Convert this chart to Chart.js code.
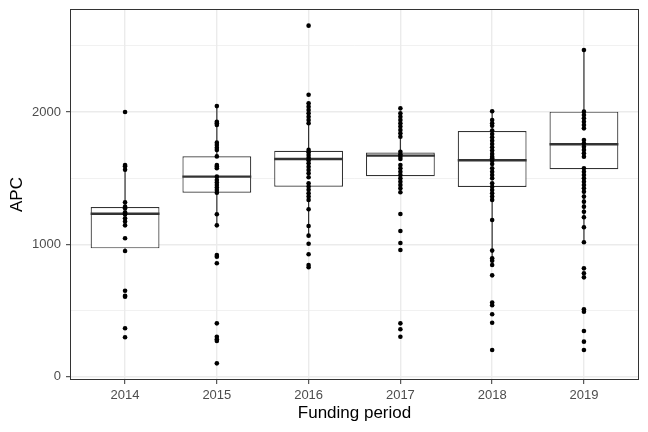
<!DOCTYPE html>
<html>
<head>
<meta charset="utf-8">
<script src="https://cdn.jsdelivr.net/npm/chart.js@4/dist/chart.umd.min.js"></script>
<style>
  html, body { margin: 0; padding: 0; background: #fff; }
  #wrap { width: 648px; height: 432px; }
</style>
</head>
<body>
<div id="wrap"><canvas id="apcChart" width="648" height="432"></canvas></div>
<script>
/* =========================
   Datos
========================= */
const years = ["2014", "2015", "2016", "2017", "2018", "2019"];

// resumen de cada caja
const q1          = [970, 1391, 1436, 1515, 1434, 1568];
const medians     = [1232, 1512, 1645, 1671, 1636, 1757];
const q3          = [1283, 1666, 1708, 1694, 1857, 2003];
const whiskerLow  = [950, 1144, 1066, 1394, 842, 1016];
const whiskerHigh = [1600, 2045, 2067, 1940, 2006, 2469];

// puntos individuales (APC) por periodo
const apc2014 = [2000, 1600, 1590, 1565, 1318, 1285, 1273, 1243, 1232, 1227, 1197, 1172, 1144, 1046, 950, 650, 612, 605, 366, 298];
const apc2015 = [2045, 1927, 1915, 1902, 1769, 1751, 1731, 1714, 1665, 1600, 1588, 1575, 1512, 1487, 1467, 1449, 1429, 1411, 1391, 1228, 1144, 920, 907, 857, 403, 302, 283, 270, 101];
const apc2016 = [2653, 2131, 2067, 2041, 2016, 1991, 1965, 1940, 1915, 1714, 1696, 1676, 1655, 1636, 1613, 1587, 1562, 1537, 1507, 1462, 1437, 1412, 1386, 1361, 1336, 1265, 1139, 1066, 1005, 925, 844, 827];
const apc2017 = [2028, 1991, 1965, 1940, 1915, 1890, 1865, 1840, 1814, 1700, 1681, 1663, 1645, 1600, 1575, 1549, 1524, 1500, 1474, 1449, 1424, 1394, 1230, 1101, 1011, 958, 403, 358, 302];
const apc2018 = [2006, 1940, 1915, 1897, 1860, 1834, 1809, 1784, 1759, 1734, 1709, 1684, 1663, 1651, 1633, 1608, 1575, 1549, 1524, 1499, 1462, 1436, 1411, 1386, 1361, 1336, 1184, 953, 895, 877, 844, 766, 560, 540, 472, 408, 202];
const apc2019 = [2469, 2003, 1978, 1953, 1927, 1902, 1877, 1789, 1764, 1738, 1714, 1689, 1663, 1575, 1549, 1524, 1499, 1474, 1449, 1424, 1398, 1361, 1323, 1285, 1247, 1205, 1129, 1016, 819, 782, 751, 509, 491, 345, 265, 202];
const apcByYear = [apc2014, apc2015, apc2016, apc2017, apc2018, apc2019];

// ejes
const yTickLabels = [0, 1000, 2000];
const yMinorBreaks = [500, 1500, 2500];
const yLimits = [-25, 2779];
const xLimits = [0.4, 6.6];

/* =========================
   Plugins: bigotes, medianas, borde del panel
========================= */
const boxExtras = {
  id: "boxExtras",
  beforeDatasetsDraw(chart) {
    const {ctx, scales: {x, y}} = chart;
    ctx.save();
    ctx.strokeStyle = "#333333";
    ctx.lineWidth = 1.2;
    years.forEach((_, i) => {
      const px = x.getPixelForValue(i + 1);
      ctx.beginPath();
      ctx.moveTo(px, y.getPixelForValue(whiskerLow[i]));
      ctx.lineTo(px, y.getPixelForValue(q1[i]));
      ctx.moveTo(px, y.getPixelForValue(q3[i]));
      ctx.lineTo(px, y.getPixelForValue(whiskerHigh[i]));
      ctx.stroke();
    });
    ctx.restore();
  },
  afterDatasetDraw(chart, args) {
    if (args.meta.type !== "bar") return;
    const {ctx, scales: {y}} = chart;
    ctx.save();
    ctx.strokeStyle = "#333333";
    ctx.lineWidth = 2.4;
    args.meta.data.forEach((bar, i) => {
      const py = y.getPixelForValue(medians[i]);
      ctx.beginPath();
      ctx.moveTo(bar.x - bar.width / 2, py);
      ctx.lineTo(bar.x + bar.width / 2, py);
      ctx.stroke();
    });
    ctx.restore();
  },
  afterDraw(chart) {
    const {ctx, chartArea: a} = chart;
    ctx.save();
    ctx.strokeStyle = "#333333";
    ctx.lineWidth = 1;
    ctx.strokeRect(a.left + 0.5, a.top + 0.5, a.right - a.left - 1, a.bottom - a.top - 1);
    ctx.restore();
  }
};

/* =========================
   Gráfica
========================= */
const points = [];
apcByYear.forEach((arr, i) => arr.forEach(v => points.push({x: i + 1, y: v})));

const boxes = years.map((_, i) => ({x: i + 1, y: [q1[i], q3[i]]}));

const isMajor = v => yTickLabels.includes(v);

new Chart(document.getElementById("apcChart"), {
  type: "bar",
  data: {
    datasets: [
      {
        type: "scatter",
        data: points,
        pointRadius: 2.3,
        pointHoverRadius: 2.3,
        backgroundColor: "#000000",
        borderWidth: 0
      },
      {
        type: "bar",
        data: boxes,
        backgroundColor: "#ffffff",
        borderColor: "#333333",
        borderWidth: 1.2,
        borderSkipped: false,
        barPercentage: 0.75,
        categoryPercentage: 1
      }
    ]
  },
  options: {
    responsive: false,
    animation: false,
    devicePixelRatio: 1,
    layout: { padding: { top: 9, right: 9, left: 0, bottom: 0 } },
    plugins: {
      legend: { display: false },
      tooltip: { enabled: false }
    },
    scales: {
      x: {
        type: "linear",
        offset: false,
        min: xLimits[0],
        max: xLimits[1],
        afterBuildTicks: s => { s.ticks = years.map((_, i) => ({value: i + 1})); },
        afterFit: s => { s.height = 52; s.paddingLeft = 0; s.paddingRight = 0; },
        border: { display: false },
        grid: {
          offset: false,
          color: "#EBEBEB",
          lineWidth: 1.4,
          tickColor: "#333333",
          tickLength: 4,
          tickWidth: 1
        },
        ticks: {
          autoSkip: false,
          maxRotation: 0,
          padding: 4,
          color: "#4D4D4D",
          font: { family: "Liberation Sans", size: 13 },
          callback: v => years[v - 1] ?? ""
        },
        title: {
          display: true,
          text: "Funding period",
          color: "#000000",
          font: { family: "Liberation Sans", size: 17 },
          padding: { top: 0, bottom: 8 }
        }
      },
      y: {
        type: "linear",
        min: yLimits[0],
        max: yLimits[1],
        afterBuildTicks: s => {
          s.ticks = [...yTickLabels, ...yMinorBreaks].sort((a, b) => a - b).map(v => ({value: v}));
        },
        afterFit: s => { s.width = 70; s.paddingTop = 0; s.paddingBottom = 0; },
        border: { display: false },
        grid: {
          color: "#EBEBEB",
          lineWidth: c => isMajor(c.tick.value) ? 1.4 : 0.7,
          tickColor: c => isMajor(c.tick.value) ? "#333333" : "rgba(0,0,0,0)",
          tickLength: 4,
          tickWidth: 1
        },
        ticks: {
          padding: 5,
          color: "#4D4D4D",
          font: { family: "Liberation Sans", size: 13 },
          callback: v => isMajor(v) ? String(v) : ""
        },
        title: {
          display: true,
          text: "APC",
          color: "#000000",
          font: { family: "Liberation Sans", size: 17 },
          padding: { top: 7, bottom: 0 }
        }
      }
    }
  },
  plugins: [boxExtras]
});
</script>
</body>
</html>
